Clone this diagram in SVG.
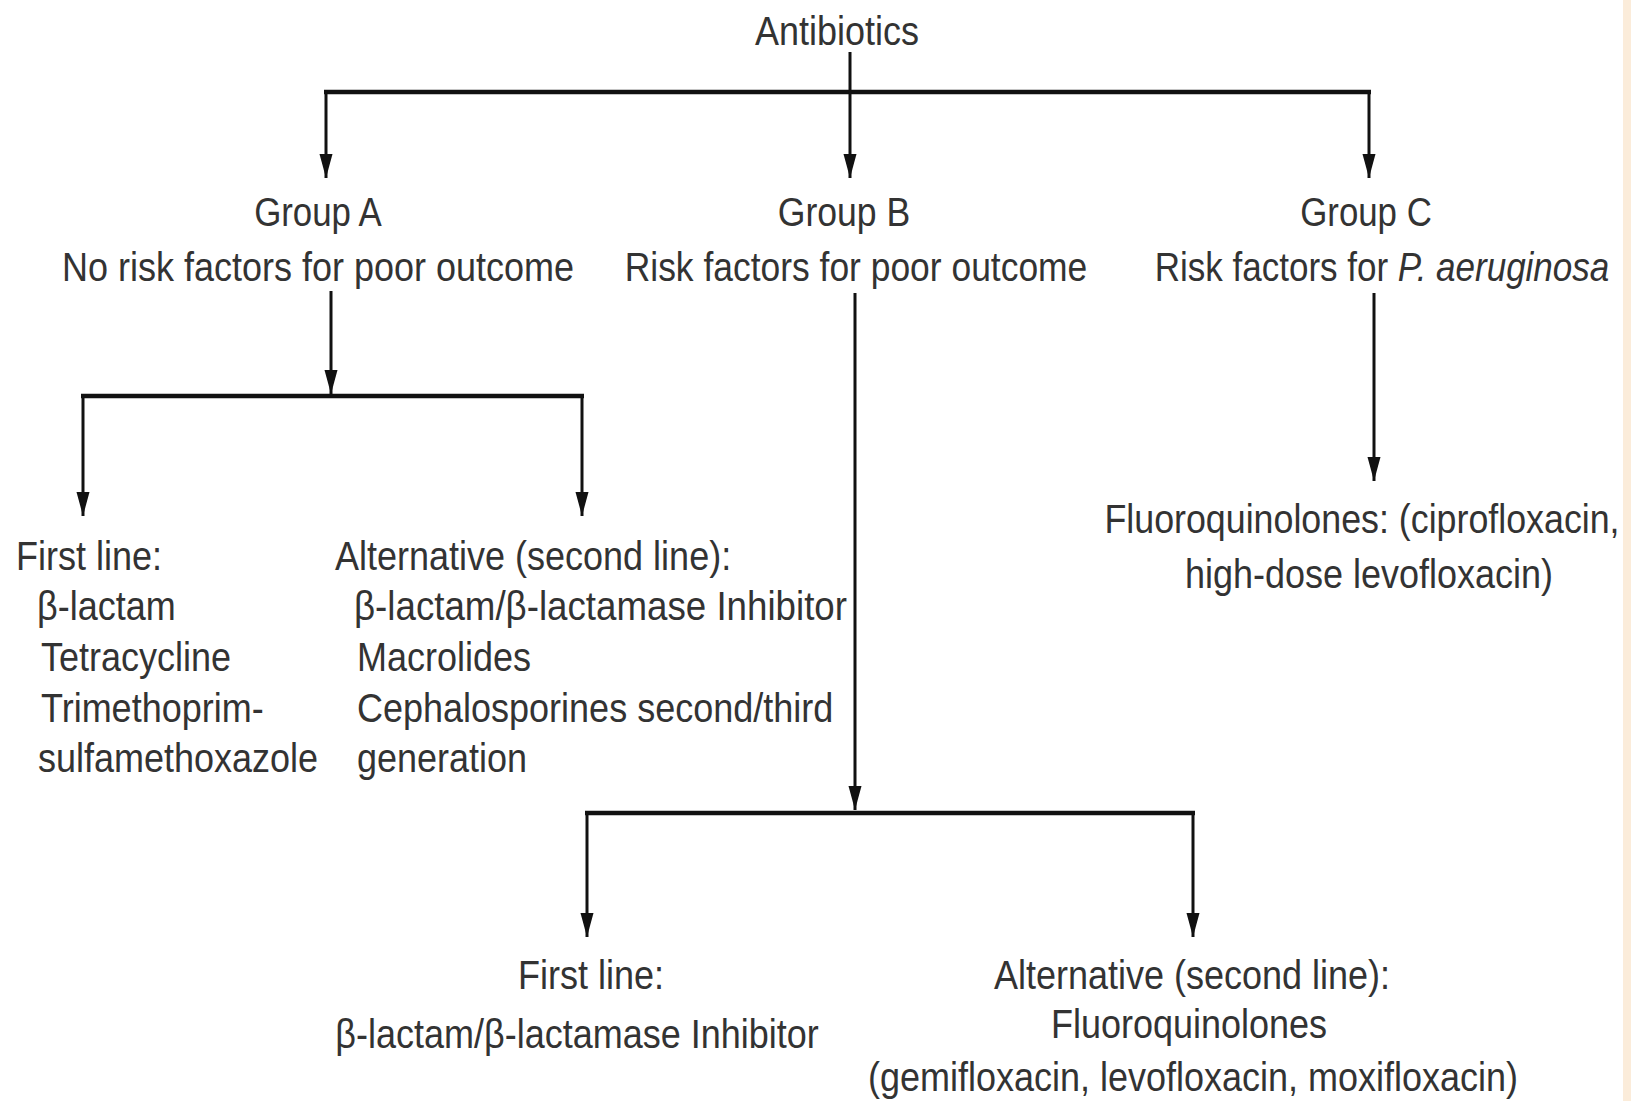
<svg xmlns="http://www.w3.org/2000/svg" width="1631" height="1101" viewBox="0 0 1631 1101">
<style>
text{font-family:"Liberation Sans",Arial,sans-serif;font-size:40px;fill:#333;}
.c{text-anchor:middle;}
.h{stroke:#111;stroke-width:4.5;fill:none;}
.v{stroke:#111;stroke-width:3;fill:none;}
.a{stroke:#111;stroke-width:3;fill:none;marker-end:url(#arr);}
</style>
<defs>
<marker id="arr" markerUnits="userSpaceOnUse" markerWidth="26" markerHeight="14" refX="24" refY="6.5" orient="auto">
<path d="M0,0 L24,6.5 L0,13 z" fill="#111"/>
</marker>
</defs>
<rect x="0" y="0" width="1631" height="1101" fill="#fff"/>
<rect x="1623" y="0" width="8" height="1101" fill="#fbecda"/>

<g id="connectors">
<path class="v" d="M850,52 V92"/>
<path class="h" d="M324,92 H1371"/>
<path class="a" d="M326,92 V178"/>
<path class="a" d="M850,92 V178"/>
<path class="a" d="M1369,92 V178"/>
<path class="a" d="M331,291 V394"/>
<path class="h" d="M81,396 H584"/>
<path class="a" d="M83,396 V516"/>
<path class="a" d="M582,396 V516"/>
<path class="a" d="M855,293 V810"/>
<path class="h" d="M585,813 H1195"/>
<path class="a" d="M587,813 V937"/>
<path class="a" d="M1193,813 V937"/>
<path class="a" d="M1374,293 V481"/>
</g>

<g id="antibiotics"><text class="c" transform="translate(837,45) scale(0.9,1)">Antibiotics</text></g>

<g id="groupA">
<text class="c" transform="translate(318,226) scale(0.87,1)">Group A</text>
<text class="c" transform="translate(318,281) scale(0.9,1)">No risk factors for poor outcome</text>
</g>
<g id="groupB">
<text class="c" transform="translate(844,226) scale(0.89,1)">Group B</text>
<text class="c" transform="translate(856,281) scale(0.886,1)">Risk factors for poor outcome</text>
</g>
<g id="groupC">
<text class="c" transform="translate(1366,226) scale(0.87,1)">Group C</text>
<text class="c" transform="translate(1382,281) scale(0.875,1)">Risk factors for <tspan font-style="italic">P. aeruginosa</tspan></text>
</g>

<g id="a-first">
<text transform="translate(16,570) scale(0.9,1)">First line:</text>
<text transform="translate(37,620) scale(0.9,1)">β-lactam</text>
<text transform="translate(41,671) scale(0.9,1)">Tetracycline</text>
<text transform="translate(41,722) scale(0.9,1)">Trimethoprim-</text>
<text transform="translate(38,772) scale(0.9,1)">sulfamethoxazole</text>
</g>

<g id="a-alt">
<text transform="translate(335,570) scale(0.9,1)">Alternative (second line):</text>
<text transform="translate(354,620) scale(0.918,1)">β-lactam/β-lactamase Inhibitor</text>
<text transform="translate(357,671) scale(0.9,1)">Macrolides</text>
<text transform="translate(357,722) scale(0.9,1)">Cephalosporines second/third</text>
<text transform="translate(357,772) scale(0.9,1)">generation</text>
</g>

<g id="c-fq">
<text class="c" transform="translate(1362,533) scale(0.895,1)">Fluoroquinolones: (ciprofloxacin,</text>
<text class="c" transform="translate(1369,588) scale(0.9,1)">high-dose levofloxacin)</text>
</g>

<g id="b-first">
<text class="c" transform="translate(591,989) scale(0.9,1)">First line:</text>
<text class="c" transform="translate(577,1048) scale(0.9,1)">β-lactam/β-lactamase Inhibitor</text>
</g>

<g id="b-alt">
<text class="c" transform="translate(1192,989) scale(0.9,1)">Alternative (second line):</text>
<text class="c" transform="translate(1189,1038) scale(0.9,1)">Fluoroquinolones</text>
<text class="c" transform="translate(1193,1091) scale(0.9,1)">(gemifloxacin, levofloxacin, moxifloxacin)</text>
</g>
</svg>
